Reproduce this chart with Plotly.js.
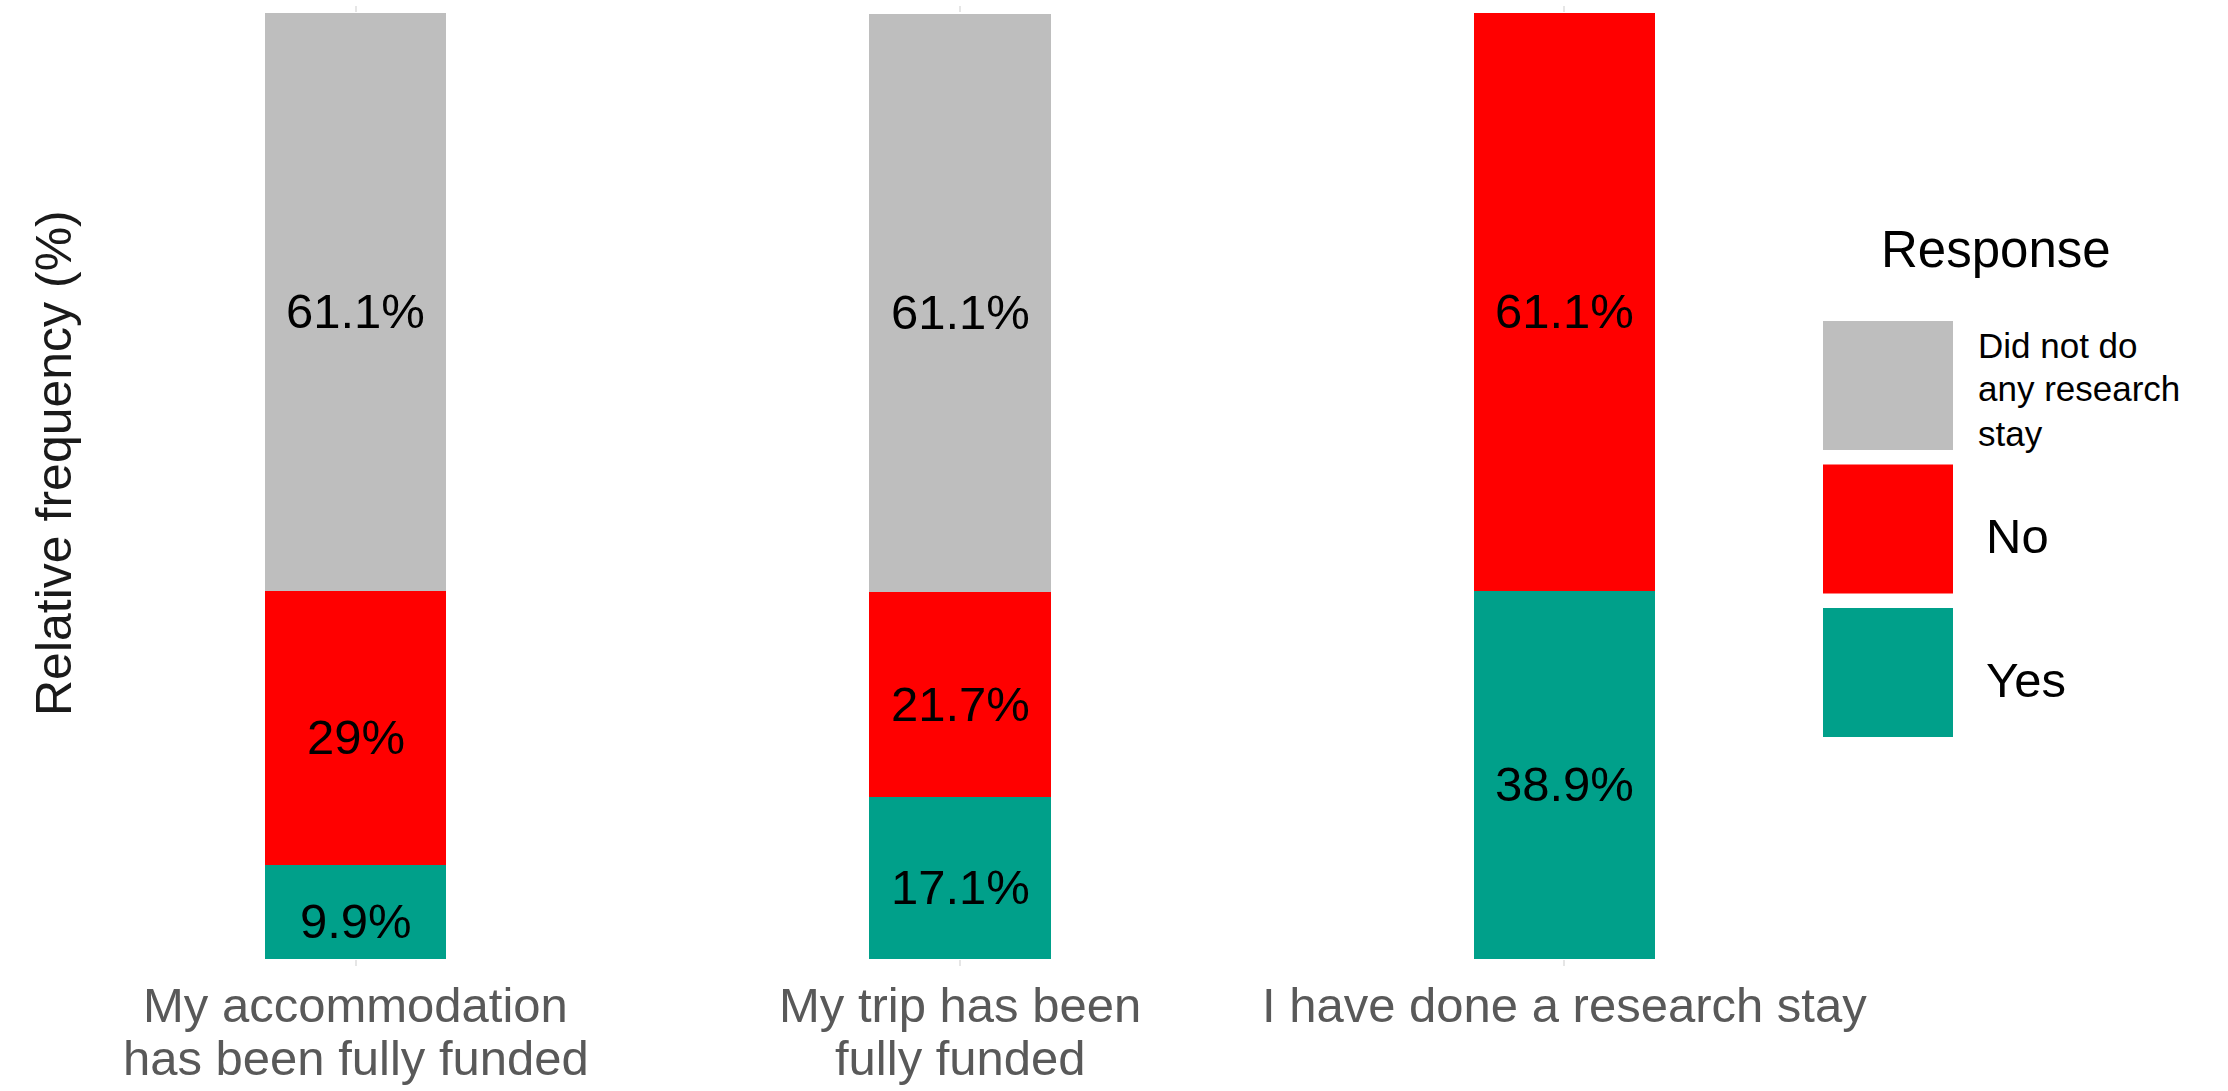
<!DOCTYPE html>
<html>
<head>
<meta charset="utf-8">
<script src="https://cdn.plot.ly/plotly-3.0.1.min.js"></script>
<style>
  html, body { margin: 0; padding: 0; background: #ffffff; }
  #chart { width: 2228px; height: 1091px; }
</style>
</head>
<body>
<div id="chart"></div>
<script>
// ---- data ----
const categories = [
  'My accommodation<br>has been fully funded',
  'My trip has been<br>fully funded',
  'I have done a research stay'
];
const yesValues = [9.9, 17.1, 38.9];
const noValues = [29, 21.7, 61.1];
const didNotValues = [61.1, 61.1, 0];
const seriesNames = ['Yes', 'No', 'Did not do any research stay'];
const legendTitle = 'Response';
const legendLabels = [['Did not do', 'any research', 'stay'], ['No'], ['Yes']];
const yAxisTitle = 'Relative frequency (%)';

// ---- styles ----
const colors = { yes: '#00A08A', no: '#FF0000', didNot: '#BEBEBE' };
const FONT = 'Liberation Sans, Arial, Helvetica, sans-serif';
const W = 2228, H = 1091;
const M = { l: 114, r: 422, t: 13, b: 132 };
const plotW = W - M.l - M.r, plotH = H - M.t - M.b;
const px2x = px => (px - M.l) / plotW;
const px2y = py => (H - M.b - py) / plotH;

const seriesList = [
  { name: seriesNames[0], vals: yesValues, color: colors.yes },
  { name: seriesNames[1], vals: noValues, color: colors.no },
  { name: seriesNames[2], vals: didNotValues, color: colors.didNot }
];

const data = seriesList.map(s => ({
  type: 'bar', name: s.name, x: categories, y: s.vals,
  marker: { color: s.color, line: { width: 0 } },
  width: 0.3,
  hoverinfo: 'x+y+name',
  showlegend: false
}));

const shapes = [], annotations = [];

// value labels, placed on the stacked segments through the axes
const base = categories.map(() => 0);
seriesList.forEach(s => {
  s.vals.forEach((v, i) => {
    if (v > 0) {
      annotations.push({
        xref: 'x', yref: 'y', x: categories[i], y: base[i] + v / 2,
        text: v + '%', showarrow: false, yshift: -9,
        xanchor: 'center', yanchor: 'middle',
        font: { family: FONT, size: 49, color: '#000000' }
      });
    }
    base[i] += v;
  });
});

// category labels (line by line, tight line spacing as in reference)
categories.forEach(c => {
  c.split('<br>').forEach((ln, j) => {
    annotations.push({
      xref: 'x', yref: 'paper', x: c, y: px2y(1005 + j * 53),
      text: ln, showarrow: false, xanchor: 'center', yanchor: 'middle',
      font: { family: FONT, size: 49, color: '#595959' }
    });
  });
});

// y axis title
annotations.push({
  xref: 'paper', yref: 'paper', x: px2x(54), y: px2y(463),
  text: yAxisTitle, textangle: -90, showarrow: false,
  xanchor: 'center', yanchor: 'middle',
  font: { family: FONT, size: 50, color: '#1a1a1a' }
});

// legend drawn as layout shapes + annotations (large keys as in reference)
const legendColors = [colors.didNot, colors.no, colors.yes];
const keyLeft = 1823, keyRight = 1953, keyTop0 = 321, keyH = 129, keyPitch = 143.5;
legendColors.forEach((c, i) => {
  const top = keyTop0 + i * keyPitch;
  shapes.push({
    type: 'rect', xref: 'paper', yref: 'paper',
    x0: px2x(keyLeft), x1: px2x(keyRight), y0: px2y(top + keyH), y1: px2y(top),
    fillcolor: c, line: { width: 0 }, layer: 'above'
  });
  const lines = legendLabels[i];
  if (lines.length > 1) {
    const lh = 44, start = top + 24;
    lines.forEach((ln, j) => {
      annotations.push({
        xref: 'paper', yref: 'paper', x: px2x(1976), y: px2y(start + j * lh),
        xanchor: 'left', yanchor: 'middle', showarrow: false, text: ln,
        font: { family: FONT, size: 35, color: '#000000' }
      });
    });
  } else {
    annotations.push({
      xref: 'paper', yref: 'paper', x: px2x(1984), y: px2y(top + keyH / 2 + 7),
      xanchor: 'left', yanchor: 'middle', showarrow: false, text: lines[0],
      font: { family: FONT, size: 49, color: '#000000' }
    });
  }
});
annotations.push({
  xref: 'paper', yref: 'paper', x: px2x(1879), y: px2y(250),
  xanchor: 'left', yanchor: 'middle', showarrow: false, text: legendTitle,
  font: { family: FONT, size: 51, color: '#000000' }
});

const layout = {
  width: W, height: H,
  margin: M,
  paper_bgcolor: '#ffffff', plot_bgcolor: '#ffffff',
  barmode: 'stack',
  showlegend: false,
  font: { family: FONT },
  xaxis: {
    type: 'category', range: [-0.4, 2.4],
    showgrid: false, zeroline: false, showline: false,
    ticks: 'outside', ticklen: 6, tickcolor: '#e6e6e6', tickwidth: 2, mirror: 'ticks',
    showticklabels: false
  },
  yaxis: {
    range: [0, 100],
    showgrid: false, zeroline: false, showline: false, showticklabels: false, ticks: ''
  },
  shapes: shapes,
  annotations: annotations
};

Plotly.newPlot('chart', data, layout, { displayModeBar: false, staticPlot: true });
</script>
</body>
</html>
